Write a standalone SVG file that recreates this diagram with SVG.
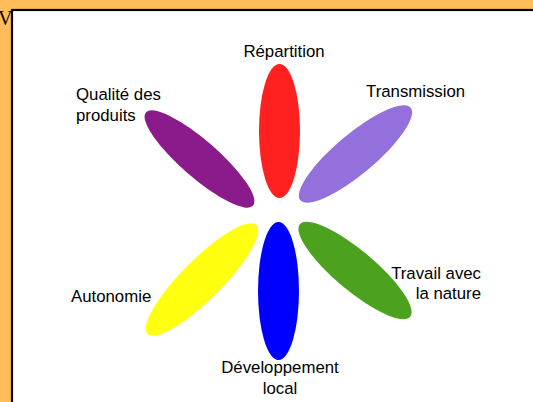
<svg xmlns="http://www.w3.org/2000/svg" width="533" height="402" viewBox="0 0 533 402">
<style>
.lbl{font-family:"Liberation Sans",Arial,sans-serif;font-size:16.8px;fill:#000}
</style>
<rect x="0" y="0" width="533" height="402" fill="#FFBE5A"/>
<text x="-2" y="25" font-family="Liberation Serif,serif" font-size="20" fill="#000">V</text>
<rect x="12" y="10" width="540" height="420" fill="#fff" stroke="#000" stroke-width="2.2"/>
<g id="repartition">
<ellipse cx="279.5" cy="131" rx="20.5" ry="67" fill="#FF2020"/>
<text class="lbl" x="284" y="57" text-anchor="middle">Répartition</text>
</g>
<g id="transmission">
<ellipse cx="355.5" cy="154" rx="72" ry="20" fill="#9370DB" transform="rotate(-40 355.5 154)"/>
<text class="lbl" x="366" y="97">Transmission</text>
</g>
<g id="qualite">
<ellipse cx="199.5" cy="159" rx="71" ry="18.5" fill="#8B1A8B" transform="rotate(41 199.5 159)"/>
<text class="lbl" x="76" y="100">Qualité des</text>
<text class="lbl" x="76" y="121">produits</text>
</g>
<g id="autonomie">
<ellipse cx="202" cy="279.5" rx="77" ry="20" fill="#FFFF10" transform="rotate(-45 202 279.5)"/>
<text class="lbl" x="71" y="302">Autonomie</text>
</g>
<g id="developpement">
<ellipse cx="278.5" cy="291" rx="20.5" ry="69" fill="#0000FF"/>
<text class="lbl" x="280" y="373" text-anchor="middle">Développement</text>
<text class="lbl" x="280" y="394" text-anchor="middle">local</text>
</g>
<g id="travail">
<ellipse cx="355" cy="270.5" rx="72" ry="20" fill="#4CA21F" transform="rotate(40 355 270.5)"/>
<text class="lbl" x="481" y="279" text-anchor="end">Travail avec</text>
<text class="lbl" x="481" y="299" text-anchor="end">la nature</text>
</g>
<g id="connectors"></g>
</svg>
